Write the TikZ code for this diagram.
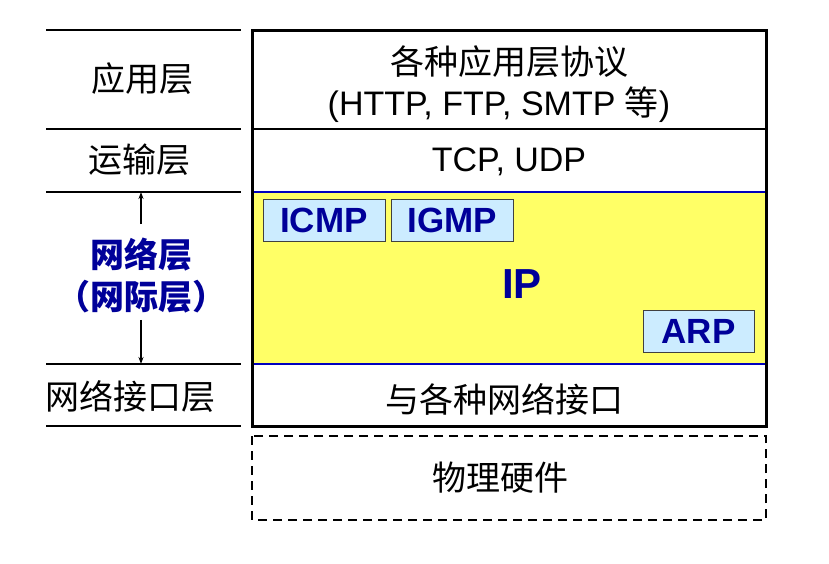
\documentclass[tikz,border=0pt]{standalone}
\usepackage{fontspec}
\setmainfont{Liberation Sans}
\newfontfamily\cjk{Noto Sans CJK SC}
\usetikzlibrary{arrows.meta}
\definecolor{ipyellow}{RGB}{255,255,102}
\definecolor{protoblue}{RGB}{204,236,255}
\definecolor{navy}{RGB}{0,0,153}
\definecolor{lineblue}{RGB}{0,0,190}
\begin{document}
\begin{tikzpicture}[x=1pt,y=-1pt,
	txt/.style={font=\fontsize{34}{42}\selectfont, inner sep=2pt},
	proto/.style={draw=black!75, fill=protoblue, line width=1pt, text=navy,
		font=\fontsize{35}{40}\selectfont\bfseries, inner sep=0pt}]
	\useasboundingbox (0,0) rectangle (829,563);
	
	% left side rules
	\foreach \y/\n in {30/a,129/b,192/c,364/d,426/e}
		\draw[line width=2pt] (46,\y) coordinate (L\n) -- (241,\y);
	
	% IP layer background
	\fill[ipyellow] (252,192) rectangle (766,364);
	\draw[lineblue, line width=2pt] (252,192) -- (766,192);
	\draw[lineblue, line width=2pt] (252,364) -- (766,364);
	\draw[line width=1.4pt] (252,129) -- (766,129);
	\draw[line width=3pt] (252,30) rectangle (766,426);
	\draw[line width=2pt, dash pattern=on 9pt off 6pt] (252,436) rectangle (766,520);
	
	% layer names
	\node[txt] (app) at (142,79) {\cjk 应用层};
	\node[txt] (trans) at (139,160) {\cjk 运输层};
	\node[txt, text=navy, align=center, font=\fontsize{34}{42}\selectfont\cjk\bfseries] (net) at (141,276) {网络层\\（网际层）};
	\node[txt] (link) at (130,397) {\cjk 网络接口层};
	%
	\draw[-{Stealth[length=7pt,width=5pt]}, line width=1.5pt, shorten <=12pt] (net.north) -- (net.north |- Lc);
	\draw[-{Stealth[length=7pt,width=5pt]}, line width=1.5pt, shorten <=4pt] (net.south) -- (net.south |- Ld);
	
	% protocols
	\node[txt] (appproto) at (509,62) {\cjk 各种应用层协议};
	\node[txt] (appex) at (499,105) {(HTTP, FTP, SMTP {\cjk 等})};
	\node[txt] (tcp) at (509,162) {TCP, UDP};
	\node[proto, minimum width=122pt, minimum height=42pt] (icmp) at (324,220) {ICMP};
	\node[proto, minimum width=122pt, minimum height=42pt] (igmp) at (452,220) {IGMP};
	\node[proto, minimum width=111pt, minimum height=42pt] (arp) at (698.5,331) {ARP};
	\node[text=navy, font=\fontsize{42}{46}\selectfont\bfseries] (ip) at (522,284) {IP};
	\node[txt] (iface) at (504,399) {\cjk 与各种网络接口};
	\node[txt] (hw) at (500,478) {\cjk 物理硬件};
	
\end{tikzpicture}
\end{document}
